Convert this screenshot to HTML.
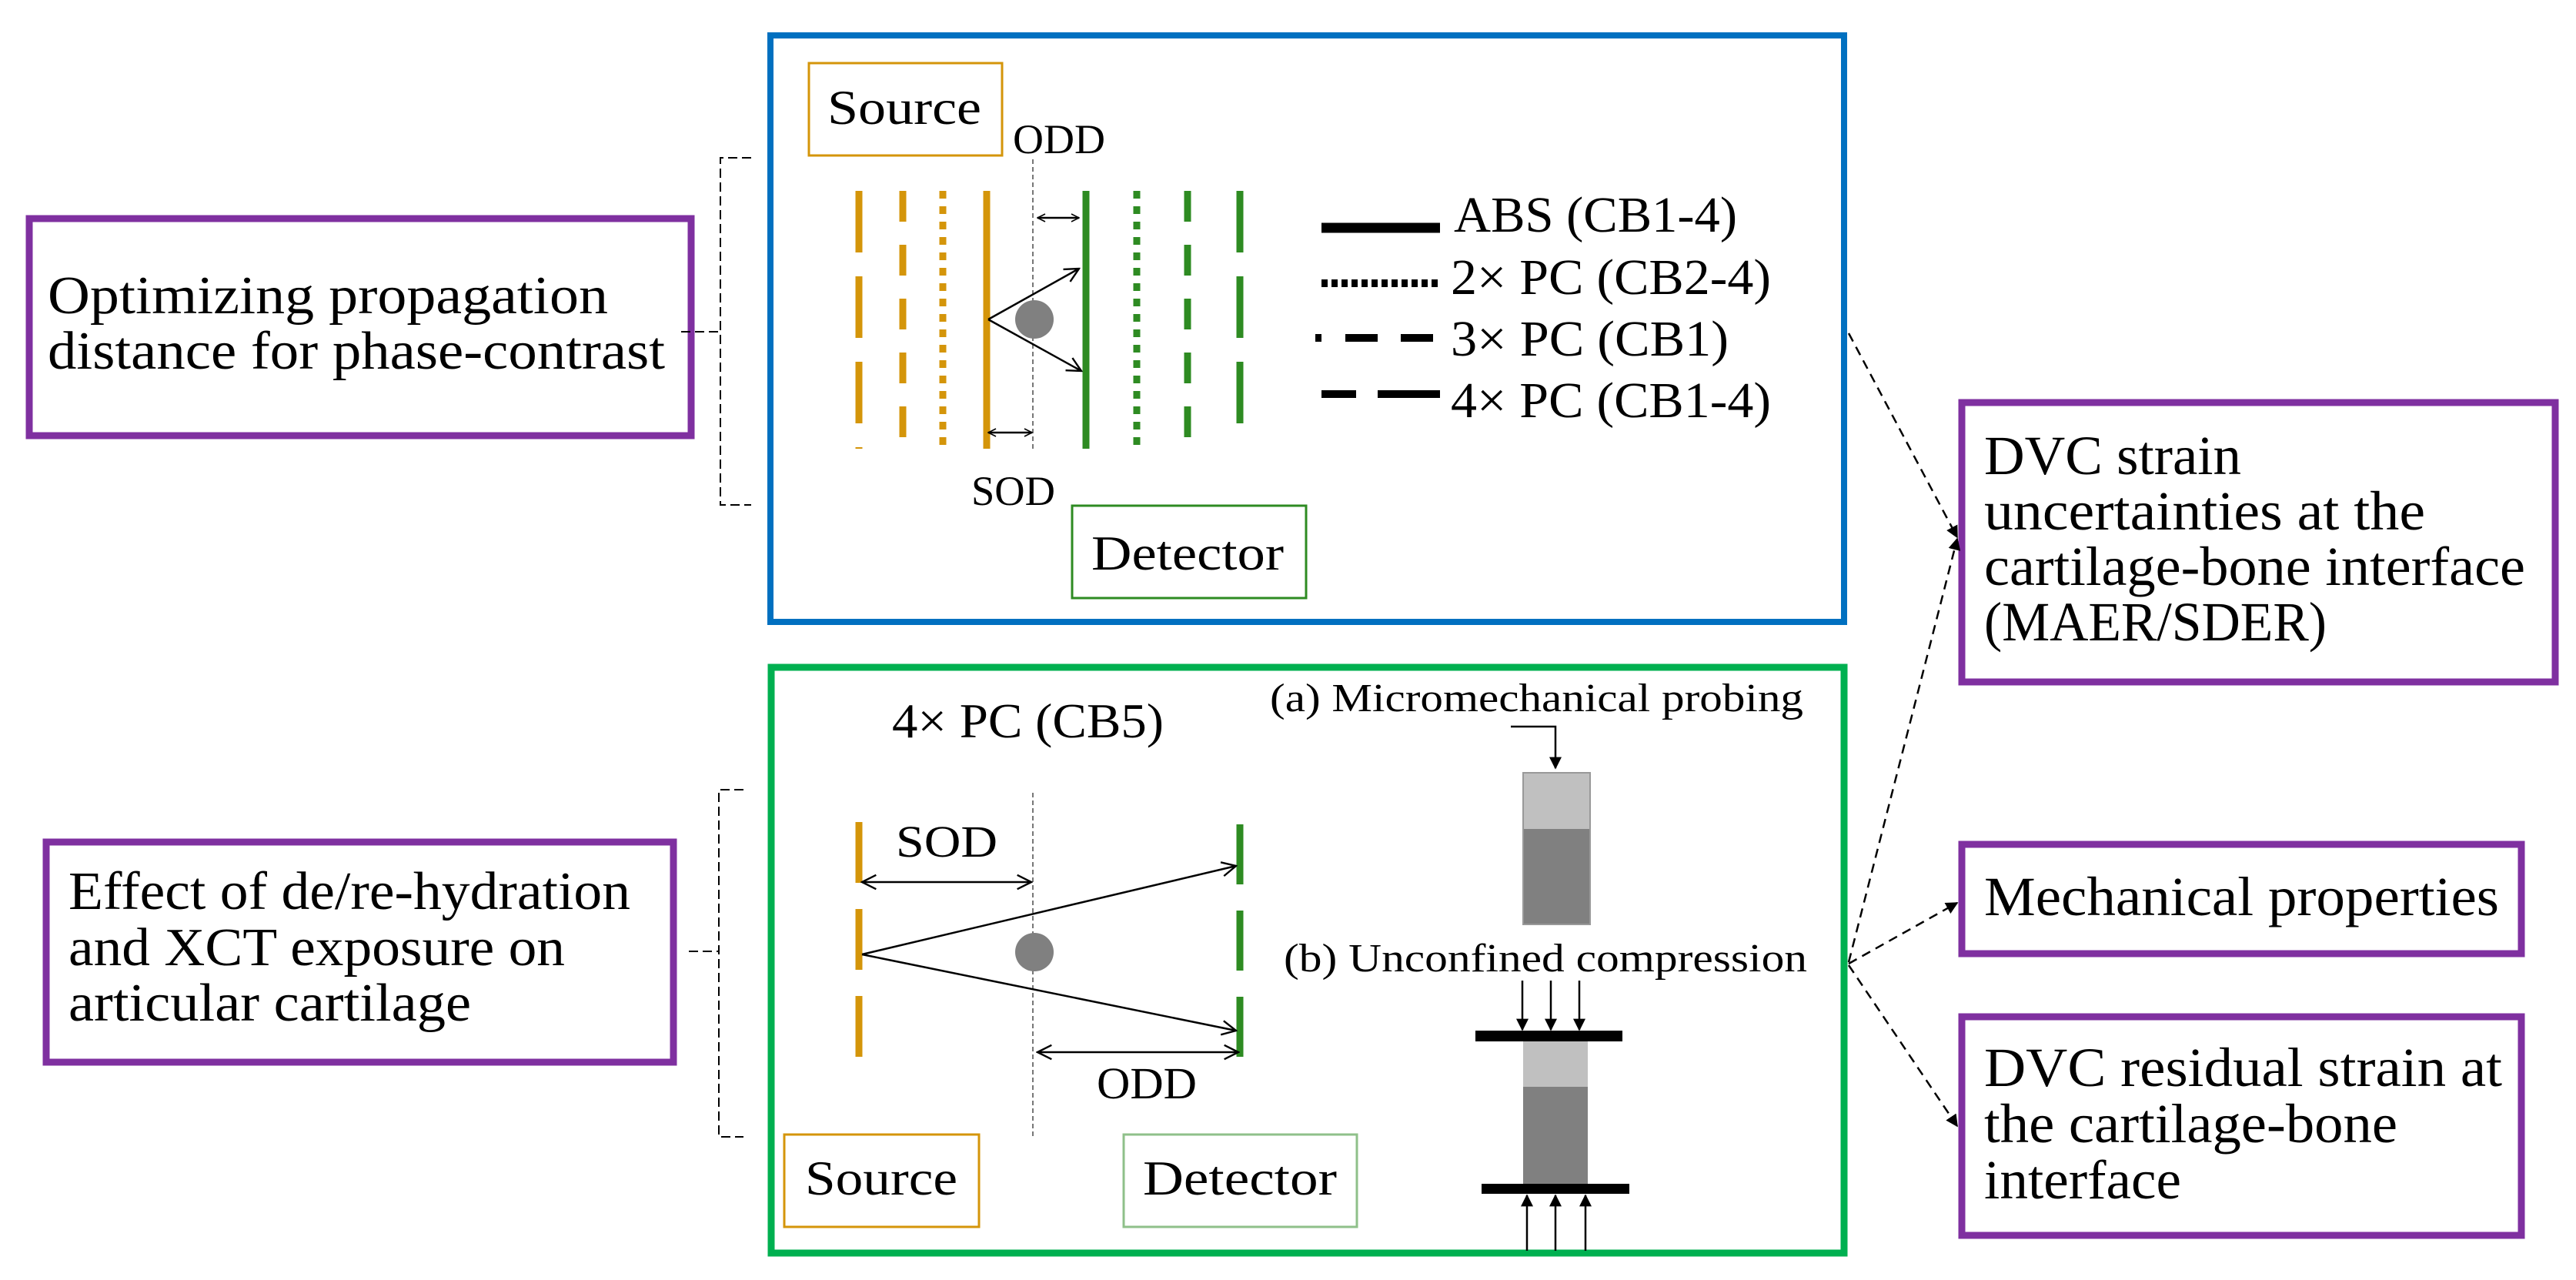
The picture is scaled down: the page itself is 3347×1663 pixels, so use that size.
<!DOCTYPE html>
<html><head><meta charset="utf-8"><style>html,body{margin:0;padding:0;background:#fff}svg{display:block}svg text{font-family:"Liberation Serif",serif}</style></head>
<body>
<svg width="3347" height="1663" viewBox="0 0 3347 1663" xmlns="http://www.w3.org/2000/svg" font-family="'Liberation Serif', serif">
<defs>
<marker id="oa" viewBox="0 0 12 12" refX="11" refY="6" markerWidth="12" markerHeight="12" markerUnits="userSpaceOnUse" orient="auto-start-reverse"><path d="M1,1 L11,6 L1,11" fill="none" stroke="#000" stroke-width="1.6"/></marker>
<marker id="oa2" viewBox="0 0 12 12" refX="11" refY="6" markerWidth="22" markerHeight="22" markerUnits="userSpaceOnUse" orient="auto-start-reverse"><path d="M1,1 L11,6 L1,11" fill="none" stroke="#000" stroke-width="1.3"/></marker>
<marker id="fa" viewBox="0 0 10 10" refX="9" refY="5" markerWidth="16" markerHeight="16" markerUnits="userSpaceOnUse" orient="auto"><path d="M0,0 L10,5 L0,10 Z" fill="#000"/></marker>
</defs>

<rect x="38" y="284" width="860" height="282" fill="none" stroke="#7F30A0" stroke-width="9"/>
<text font-size="70" fill="#000"><tspan x="62" y="407" textLength="728" lengthAdjust="spacingAndGlyphs">Optimizing propagation</tspan><tspan x="62" y="479" textLength="802" lengthAdjust="spacingAndGlyphs">distance for phase-contrast</tspan></text>
<rect x="60" y="1094" width="815" height="286" fill="none" stroke="#7F30A0" stroke-width="9"/>
<text font-size="70" fill="#000"><tspan x="89" y="1181" textLength="730" lengthAdjust="spacingAndGlyphs">Effect of de/re-hydration</tspan><tspan x="89" y="1254" textLength="645" lengthAdjust="spacingAndGlyphs">and XCT exposure on</tspan><tspan x="89" y="1326" textLength="523" lengthAdjust="spacingAndGlyphs">articular cartilage</tspan></text>

<g fill="none" stroke="#000" stroke-width="2" stroke-dasharray="12 6">
<path d="M976,205 H936 V656 H976"/><path d="M885,431 H936"/>
<path d="M966,1026 H934 V1477 H966"/><path d="M895,1236 H934"/>
</g>

<rect x="1001" y="46" width="1395" height="762" fill="none" stroke="#0070C0" stroke-width="8"/>
<rect x="1051" y="82" width="251" height="120" fill="none" stroke="#D4950A" stroke-width="3"/>
<text x="1075" y="161" font-size="64" textLength="200" lengthAdjust="spacingAndGlyphs">Source</text>
<text x="1316" y="199" font-size="54" textLength="120" lengthAdjust="spacingAndGlyphs">ODD</text>
<line x1="1342" y1="207" x2="1342" y2="587" stroke="#777" stroke-width="2" stroke-dasharray="6 4"/>
<g stroke-width="9" fill="none">
<line x1="1116" y1="248" x2="1116" y2="583" stroke="#D4950A" stroke-dasharray="80 31"/>
<line x1="1173" y1="248" x2="1173" y2="583" stroke="#D4950A" stroke-dasharray="40 30"/>
<line x1="1225" y1="248" x2="1225" y2="583" stroke="#D4950A" stroke-dasharray="10 10"/>
<line x1="1282" y1="248" x2="1282" y2="583" stroke="#D4950A"/>
<line x1="1411" y1="248" x2="1411" y2="583" stroke="#2E8B22"/>
<line x1="1477" y1="248" x2="1477" y2="583" stroke="#2E8B22" stroke-dasharray="10 10"/>
<line x1="1543" y1="248" x2="1543" y2="583" stroke="#2E8B22" stroke-dasharray="40 30"/>
<line x1="1611" y1="248" x2="1611" y2="550" stroke="#2E8B22" stroke-dasharray="80 31"/>
</g>
<circle cx="1344" cy="415" r="25" fill="#808080"/>
<g stroke="#000" stroke-width="2.5" fill="none">
<line x1="1284" y1="415" x2="1402" y2="349" marker-end="url(#oa2)"/>
<line x1="1284" y1="415" x2="1405" y2="482" marker-end="url(#oa2)"/>
<line x1="1348" y1="283" x2="1402" y2="283" marker-start="url(#oa)" marker-end="url(#oa)"/>
<line x1="1284" y1="562" x2="1341" y2="562" marker-start="url(#oa)" marker-end="url(#oa)"/>
</g>
<text x="1262" y="656" font-size="54" textLength="109" lengthAdjust="spacingAndGlyphs">SOD</text>
<rect x="1393" y="657" width="304" height="120" fill="none" stroke="#2E8B22" stroke-width="3"/>
<text x="1418" y="740" font-size="64" textLength="250" lengthAdjust="spacingAndGlyphs">Detector</text>
<line x1="1717" y1="296" x2="1871" y2="296" stroke="#000" stroke-width="13"/>
<line x1="1717" y1="368" x2="1871" y2="368" stroke="#000" stroke-width="10" stroke-dasharray="8 5"/>
<g stroke="#000" stroke-width="10"><line x1="1709" y1="439" x2="1717" y2="439"/><line x1="1748" y1="439" x2="1790" y2="439"/><line x1="1820" y1="439" x2="1862" y2="439"/>
<line x1="1717" y1="512" x2="1762" y2="512"/><line x1="1790" y1="512" x2="1871" y2="512"/></g>
<g font-size="66"><text x="1889" y="301" textLength="368" lengthAdjust="spacingAndGlyphs">ABS (CB1-4)</text>
<text x="1885" y="382" textLength="416" lengthAdjust="spacingAndGlyphs">2× PC (CB2-4)</text>
<text x="1885" y="462" textLength="361" lengthAdjust="spacingAndGlyphs">3× PC (CB1)</text>
<text x="1885" y="542" textLength="416" lengthAdjust="spacingAndGlyphs">4× PC (CB1-4)</text></g>

<rect x="1002" y="867" width="1394" height="761" fill="none" stroke="#00B050" stroke-width="9"/>
<text x="1159" y="958" font-size="64" textLength="353" lengthAdjust="spacingAndGlyphs">4× PC (CB5)</text>
<line x1="1342" y1="1030" x2="1342" y2="1478" stroke="#777" stroke-width="2" stroke-dasharray="6 4"/>
<line x1="1116" y1="1068" x2="1116" y2="1373" stroke="#D4950A" stroke-width="9" stroke-dasharray="79 34"/>
<line x1="1611" y1="1071" x2="1611" y2="1373" stroke="#2E8B22" stroke-width="9" stroke-dasharray="78 34"/>
<circle cx="1344" cy="1237" r="25" fill="#808080"/>
<g stroke="#000" stroke-width="2.5" fill="none">
<line x1="1120" y1="1146" x2="1340" y2="1146" marker-start="url(#oa2)" marker-end="url(#oa2)"/>
<line x1="1120" y1="1240" x2="1606" y2="1125" marker-end="url(#oa2)"/>
<line x1="1120" y1="1240" x2="1606" y2="1339" marker-end="url(#oa2)"/>
<line x1="1348" y1="1367" x2="1609" y2="1367" marker-start="url(#oa2)" marker-end="url(#oa2)"/>
</g>
<text x="1164" y="1113" font-size="58" textLength="132" lengthAdjust="spacingAndGlyphs">SOD</text>
<text x="1425" y="1427" font-size="58" textLength="130" lengthAdjust="spacingAndGlyphs">ODD</text>
<rect x="1019" y="1474" width="253" height="120" fill="none" stroke="#D4950A" stroke-width="3"/>
<text x="1046" y="1552" font-size="64" textLength="198" lengthAdjust="spacingAndGlyphs">Source</text>
<rect x="1460" y="1474" width="303" height="120" fill="none" stroke="#8FC08A" stroke-width="3"/>
<text x="1485" y="1552" font-size="64" textLength="252" lengthAdjust="spacingAndGlyphs">Detector</text>
<text x="1650" y="924" font-size="52" textLength="693" lengthAdjust="spacingAndGlyphs">(a) Micromechanical probing</text>
<path d="M1963,944 H2021 V998" fill="none" stroke="#000" stroke-width="2.5" marker-end="url(#fa)"/>
<rect x="1979" y="1004" width="87" height="197" fill="#808080" stroke="#999" stroke-width="2"/>
<rect x="1980" y="1005" width="85" height="72" fill="#C0C0C0"/>
<text x="1668" y="1262" font-size="52" textLength="680" lengthAdjust="spacingAndGlyphs">(b) Unconfined compression</text>
<g stroke="#000" stroke-width="2.5" marker-end="url(#fa)">
<line x1="1978" y1="1274" x2="1978" y2="1338"/><line x1="2015" y1="1274" x2="2015" y2="1338"/><line x1="2052" y1="1274" x2="2052" y2="1338"/>
<line x1="1984" y1="1625" x2="1984" y2="1553"/><line x1="2021" y1="1625" x2="2021" y2="1553"/><line x1="2060" y1="1625" x2="2060" y2="1553"/>
</g>
<rect x="1979" y="1353" width="84" height="185" fill="#808080"/>
<rect x="1979" y="1353" width="84" height="59" fill="#C0C0C0"/>
<rect x="1917" y="1339" width="191" height="14" fill="#000"/>
<rect x="1925" y="1538" width="192" height="13" fill="#000"/>

<rect x="2549" y="523" width="771" height="363" fill="none" stroke="#7F30A0" stroke-width="9"/>
<g font-size="72"><text x="2578" y="616" textLength="334" lengthAdjust="spacingAndGlyphs">DVC strain</text>
<text x="2578" y="688" textLength="573" lengthAdjust="spacingAndGlyphs">uncertainties at the</text>
<text x="2578" y="760" textLength="703" lengthAdjust="spacingAndGlyphs">cartilage-bone interface</text>
<text x="2578" y="832" textLength="445" lengthAdjust="spacingAndGlyphs">(MAER/SDER)</text></g>
<rect x="2549" y="1097" width="727" height="142" fill="none" stroke="#7F30A0" stroke-width="9"/>
<text x="2578" y="1189" font-size="72" textLength="669" lengthAdjust="spacingAndGlyphs">Mechanical properties</text>
<rect x="2549" y="1321" width="727" height="284" fill="none" stroke="#7F30A0" stroke-width="9"/>
<g font-size="72"><text x="2578" y="1411" textLength="673" lengthAdjust="spacingAndGlyphs">DVC residual strain at</text>
<text x="2578" y="1484" textLength="537" lengthAdjust="spacingAndGlyphs">the cartilage-bone</text>
<text x="2578" y="1557" textLength="256" lengthAdjust="spacingAndGlyphs">interface</text></g>

<g fill="none" stroke="#000" stroke-width="2.5" stroke-dasharray="12 8" marker-end="url(#fa)">
<line x1="2402" y1="433" x2="2543" y2="698"/>
<line x1="2402" y1="1250" x2="2543" y2="700"/>
<line x1="2402" y1="1252" x2="2543" y2="1173"/>
<line x1="2402" y1="1254" x2="2543" y2="1463"/>
</g>
</svg>
</body></html>
